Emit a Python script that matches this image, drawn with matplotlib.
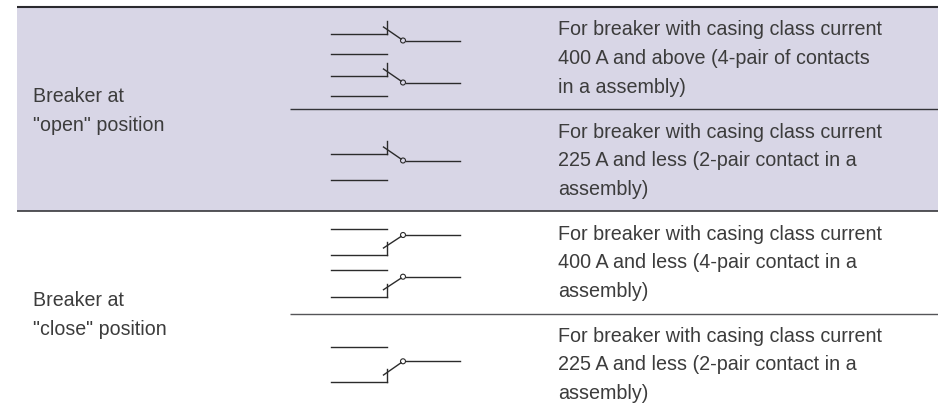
import matplotlib.pyplot as plt
from matplotlib.patches import Rectangle, Circle

# row text
state_labels = ['Breaker at\n"open" position', 'Breaker at\n"close" position']
state_y = [110.8, 314.8]
desc_labels = [
    'For breaker with casing class current\n400 A and above (4-pair of contacts\nin a assembly)',
    'For breaker with casing class current\n225 A and less (2-pair contact in a\nassembly)',
    'For breaker with casing class current\n400 A and less (4-pair contact in a\nassembly)',
    'For breaker with casing class current\n225 A and less (2-pair contact in a\nassembly)',
]
desc_y = [58.5, 160.7, 262.7, 364.7]

# switch symbols: (upper line y, lower line y, right line y)
open_symbols = [(33.5, 54, 40.5), (75.5, 96, 82.5), (153.5, 180, 160.5)]
close_symbols = [(228.7, 255, 235), (270, 296.7, 276.7), (347, 382, 361.3)]

# rules: (x start, y, width, colour)
rules = [(17, 7.2, 1.5, '#2a2a2e'), (290, 109.3, 1.0, '#333338'),
         (17, 211.3, 1.2, '#38383c'), (290, 313.7, 1.0, '#555558')]

INK = '#3c3c3c'
LINE = '#2b2b2b'

plt.rcParams['font.family'] = ['Liberation Sans', 'DejaVu Sans']
fig = plt.figure(figsize=[9.38, 4.12], dpi=100)
ax = fig.add_axes([0, 0, 1, 1])
ax.set_xlim(0, 938)
ax.set_ylim(412, 0)
ax.axis('off')

ax.add_patch(Rectangle((17, 8), 921, 203, facecolor='#d8d6e6', edgecolor='none'))

for x0, y, lw, c in rules:
    ax.plot([x0, 938], [y, y], color=c, lw=lw, solid_capstyle='butt')

for y, s in zip(state_y, state_labels):
    ax.text(33, y, s, fontsize=14.15, color=INK, va='center', ha='left', linespacing=1.64)

for y, s in zip(desc_y, desc_labels):
    ax.text(558, y, s, fontsize=14.25, color=INK, va='center', ha='left', linespacing=1.64)


def base(top, low, right):
    ax.plot([331, 387], [top, top], color=LINE, lw=1)
    ax.plot([331, 387], [low, low], color=LINE, lw=1)
    ax.plot([405.5, 460], [right, right], color=LINE, lw=1)
    ax.add_patch(Circle((403, right), 2.5, facecolor='none', edgecolor=LINE, lw=0.8, zorder=3))


for top, low, right in open_symbols:
    base(top, low, right)
    ax.plot([387, 387], [top - 12.5, top], color=LINE, lw=1)
    ax.plot([383.5, 401], [top - 6.5, right - 1.5], color=LINE, lw=1)

for top, low, right in close_symbols:
    base(top, low, right)
    ax.plot([387, 387], [low - 13, low], color=LINE, lw=1)
    ax.plot([383.5, 401], [low - 7, right + 1.5], color=LINE, lw=1)

fig.savefig('out.png', dpi=100)
